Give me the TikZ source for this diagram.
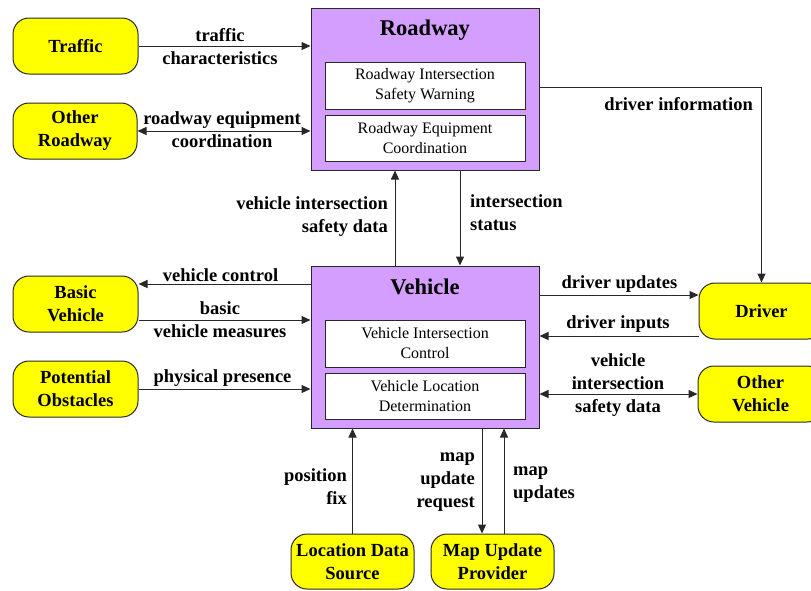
\documentclass[tikz,border=0pt]{standalone}
\usepackage{fontspec}
\setmainfont{Liberation Serif}
\usetikzlibrary{arrows.meta}
\definecolor{actorfill}{RGB}{255,255,0}
\definecolor{sysfill}{RGB}{212,158,255}
\definecolor{edgecol}{RGB}{40,40,40}

\begin{document}
\begin{tikzpicture}[x=1pt,y=-1pt,
  actor/.style={draw=edgecol, line width=1pt, fill=actorfill, rounded corners=16pt,
    minimum width=125pt, minimum height=56pt, inner sep=0pt, align=center,
    font=\bfseries\fontsize{18.5}{23}\selectfont},
  system/.style={draw=edgecol, line width=1pt, fill=sysfill,
    minimum width=228pt, minimum height=162pt, inner sep=0pt},
  module/.style={draw=edgecol, line width=1pt, fill=white,
    minimum width=200pt, minimum height=47pt, inner sep=0pt, align=center,
    font=\fontsize{16}{20}\selectfont},
  systitle/.style={font=\bfseries\fontsize{22.5}{26}\selectfont, inner sep=0pt},
  lbl/.style={font=\bfseries\fontsize{18.5}{23}\selectfont, inner sep=0pt, align=center},
  flow/.style={draw=edgecol, line width=1pt, -{Triangle[length=9pt,width=8pt]}},
  bflow/.style={draw=edgecol, line width=1pt,
    {Triangle[length=9pt,width=8pt]}-{Triangle[length=9pt,width=8pt]}},
]
\useasboundingbox (0,0) rectangle (811,590);
\clip (0,0) rectangle (811,590);

% subsystems
\node[system] (roadway) at (425,89) {};
\node[systitle] (roadwaytitle) at (425,30) {Roadway};
\node[module] (rdwarn) at (425,85.5) {Roadway Intersection\\Safety Warning};
\node[module, minimum height=46pt] (rdequip) at (425,138) {Roadway Equipment\\Coordination};

\node[system] (vehicle) at (425,347) {};
\node[systitle] (vehicletitle) at (425,287) {Vehicle};
\node[module] (vhctrl) at (425,343.5) {Vehicle Intersection\\Control};
\node[module, minimum height=46pt] (vhloc) at (425,396) {Vehicle Location\\Determination};

% terminators
\node[actor] (traffic) at (75.5,46) {Traffic};
\node[actor, minimum width=124pt] (oroad) at (75,131) {Other\\Roadway};
\node[actor] (basic) at (75.5,304) {Basic\\Vehicle};
\node[actor] (obst) at (75.5,389) {Potential\\Obstacles};
\node[actor, minimum width=123pt, minimum height=55pt] (locsrc) at (352.5,561.5) {Location Data\\Source};
\node[actor, minimum width=123pt, minimum height=55pt] (mapprov) at (492.5,561.5) {Map Update\\Provider};
\node[actor] (driver) at (761.5,311) {Driver};
\node[actor] (overh) at (760.5,394) {Other\\Vehicle};

% routing rows and columns
\coordinate (row87) at (0,87);
\coordinate (row284) at (0,284);
\coordinate (row320) at (0,320);
\coordinate (row295) at (0,295);
\coordinate (row336) at (0,336);
\coordinate (col395) at (395,0);
\coordinate (col460) at (460,0);
\coordinate (col482) at (482,0);
\coordinate (col504) at (504,0);

% flows
\draw[flow] (traffic.east) -- (traffic.east -| roadway.west);
\draw[bflow] (oroad.east) -- (oroad.east -| roadway.west);
\draw[flow] (vehicle.north -| col395) -- (roadway.south -| col395);
\draw[flow] (roadway.south -| col460) -- (vehicle.north -| col460);
\draw[flow] (roadway.east |- row87) -| (driver.north);
\draw[flow] (vehicle.west |- row284) -- (basic.east |- row284);
\draw[flow] (basic.east |- row320) -- (vehicle.west |- row320);
\draw[flow] (obst.east) -- (obst.east -| vehicle.west);
\draw[flow] (vehicle.east |- row295) -- (driver.west |- row295);
\draw[flow] (driver.west |- row336) -- (vehicle.east |- row336);
\draw[bflow] (vehicle.east |- overh.west) -- (overh.west);
\draw[flow] (locsrc.north) -- (locsrc.north |- vehicle.south);
\draw[flow] (vehicle.south -| col482) -- (mapprov.north -| col482);
\draw[flow] (mapprov.north -| col504) -- (vehicle.south -| col504);

% flow labels
\node[lbl] (ltraffic) at (220,47) {traffic\\characteristics};
\node[lbl] (lequip) at (222,130) {roadway equipment\\coordination};
\node[lbl, anchor=east, align=right] (lvisd) at (388,216.5) {vehicle intersection\\safety data};
\node[lbl, anchor=west, align=left] (lstatus) at (470,212.5) {intersection\\status};
\node[lbl, anchor=east] (ldrvinfo) at (753,104) {driver information};
\node[lbl] (lctrl) at (220.5,275) {vehicle control};
\node[lbl] (lmeas) at (220,320) {basic\\vehicle measures};
\node[lbl] (lphys) at (222.5,378) {physical presence};
\node[lbl, anchor=east, align=right] (lpos) at (347,486.5) {position\\fix};
\node[lbl, anchor=east, align=right] (lmapreq) at (475,482) {map\\update\\request};
\node[lbl, anchor=west, align=left] (lmapupd) at (513,485) {map\\updates};
\node[lbl] (ldrvupd) at (619.5,284) {driver updates};
\node[lbl] (ldrvin) at (618,324) {driver inputs};
\node[lbl] (lovisd) at (618,385) {vehicle\\intersection\\safety data};
\end{tikzpicture}
\end{document}
